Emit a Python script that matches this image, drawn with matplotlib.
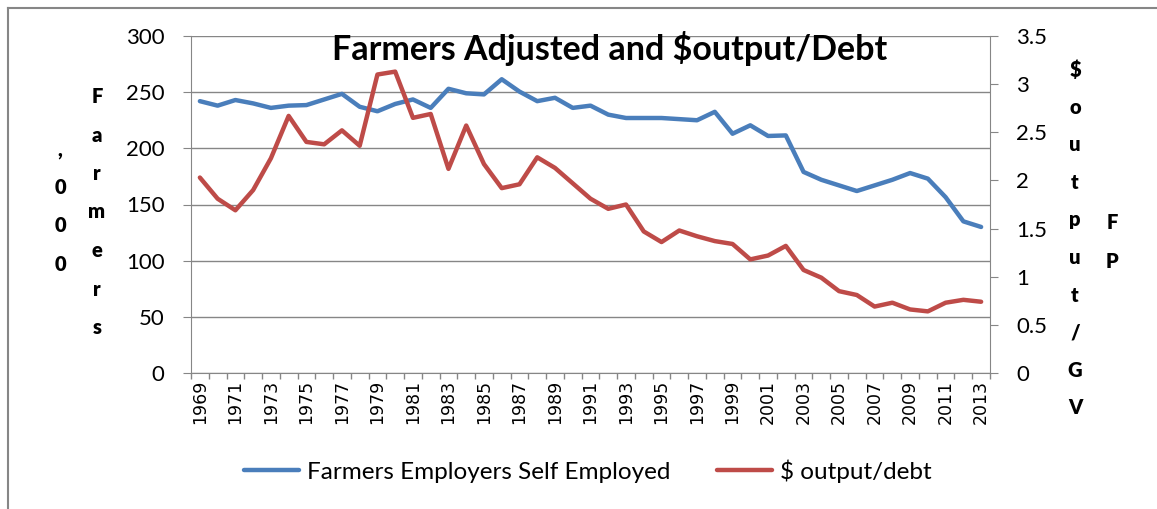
import numpy as np
import matplotlib
matplotlib.use('Agg')
import matplotlib.pyplot as plt
from matplotlib.lines import Line2D

years = list(range(1969, 2014))
farmers = [242, 238, 243, 240, 236, 238, 238.5, 243.5, 248.5, 237,
           233, 239.5, 243.5, 236, 253, 249, 248, 261.5, 250.5, 242,
           245, 236, 238, 230, 227, 227, 227, 226, 225, 232.5,
           213, 220.5, 211, 211.5, 179, 172, 167, 162, 167, 172,
           178, 173, 156.5, 135, 130]
output_debt = [2.03, 1.81, 1.69, 1.90, 2.23, 2.67, 2.40, 2.375, 2.52, 2.36,
               3.10, 3.13, 2.65, 2.69, 2.12, 2.57, 2.17, 1.92, 1.96, 2.24,
               2.13, 1.97, 1.81, 1.705, 1.75, 1.47, 1.36, 1.48, 1.42, 1.37,
               1.34, 1.18, 1.22, 1.32, 1.07, 0.99, 0.85, 0.81, 0.69, 0.73,
               0.66, 0.64, 0.73, 0.76, 0.74]
farmers_name = 'Farmers Employers Self Employed'
ratio_name = '$ output/debt'

W, H = 1157, 509
grey = '#868686'
blue = '#4A7EBB'
red = '#BE4B48'

fig = plt.figure(figsize=(W / 100, H / 100), dpi=100)
ax = fig.add_axes([191 / W, 1 - 373 / H, (990 - 191) / W, (373 - 36) / H])
ax2 = ax.twinx()

x = np.arange(len(years))
l1, = ax.plot(x, farmers, color=blue, lw=3.2, solid_capstyle='round', solid_joinstyle='round')
l2, = ax2.plot(x, output_debt, color=red, lw=3.2, solid_capstyle='round', solid_joinstyle='round')

ax.set_xlim(-0.5, len(years) - 0.5)
ax.set_ylim(0, 300)
ax2.set_ylim(0, 3.5)
ax.set_yticks(np.arange(0, 301, 50))
ax2.set_yticks(np.arange(0, 3.51, 0.5))
ax2.set_yticklabels(['0', '0.5', '1', '1.5', '2', '2.5', '3', '3.5'])
ax.grid(axis='y', color=grey, lw=1)
ax.set_axisbelow(True)

# labels every other year, tick marks on category boundaries
ax.set_xticks(x[::2])
ax.set_xticklabels([str(y) for y in years[::2]], rotation=90, family='DejaVu Sans', fontsize=12.5)
ax.set_xticks(np.arange(-0.5, len(years)), minor=True)
ax.tick_params(axis='x', which='major', length=0, pad=5)
ax.tick_params(axis='x', which='minor', length=4, color=grey, width=1)

for a in (ax, ax2):
    for s in a.spines.values():
        s.set_color(grey)
    a.spines['top'].set_visible(False)
ax.spines['right'].set_visible(False)
ax2.spines['left'].set_visible(False)
ax2.spines['bottom'].set_visible(False)

ax.tick_params(axis='y', length=6, color=grey, pad=13, labelsize=16)
ax2.tick_params(axis='y', length=6, color=grey, pad=13, labelsize=16)
for t in ax.get_yticklabels() + ax2.get_yticklabels():
    t.set_family('Lato')

fig.text(610 / W, 1 - 60 / H, 'Farmers Adjusted and $output/Debt', ha='center', va='baseline',
         fontsize=24.5, fontweight='bold', family='Lato')

# stacked axis titles, one character per line
def stack(s, xpix, y0, step):
    for i, ch in enumerate(s):
        fig.text(xpix / W, 1 - (y0 + i * step) / H, ch, ha='center', va='baseline',
                 fontsize=14.5, fontweight='heavy', family='Lato')

stack(',000', 60, 155.5, 38.5)
stack('Farmers', 97, 103, 38.5)
stack('$output/GV', 1075, 76, 37.6)
stack('FP', 1112, 229, 38.5)

fig.legend([l1, l2], [farmers_name, ratio_name], loc='center', ncol=2,
           bbox_to_anchor=(588 / W, 1 - 471 / H), frameon=False,
           prop={'family': 'Lato', 'size': 17.5}, handlelength=2.26,
           handletextpad=0.33, columnspacing=1.9)

# outer chart border (cut at right and bottom)
fig.add_artist(Line2D([7.5 / W, 1], [1 - 7.5 / H, 1 - 7.5 / H], color=grey, lw=1.5))
fig.add_artist(Line2D([7.5 / W, 7.5 / W], [0, 1 - 7.5 / H], color=grey, lw=1.5))

fig.savefig('out.png', dpi=100)
